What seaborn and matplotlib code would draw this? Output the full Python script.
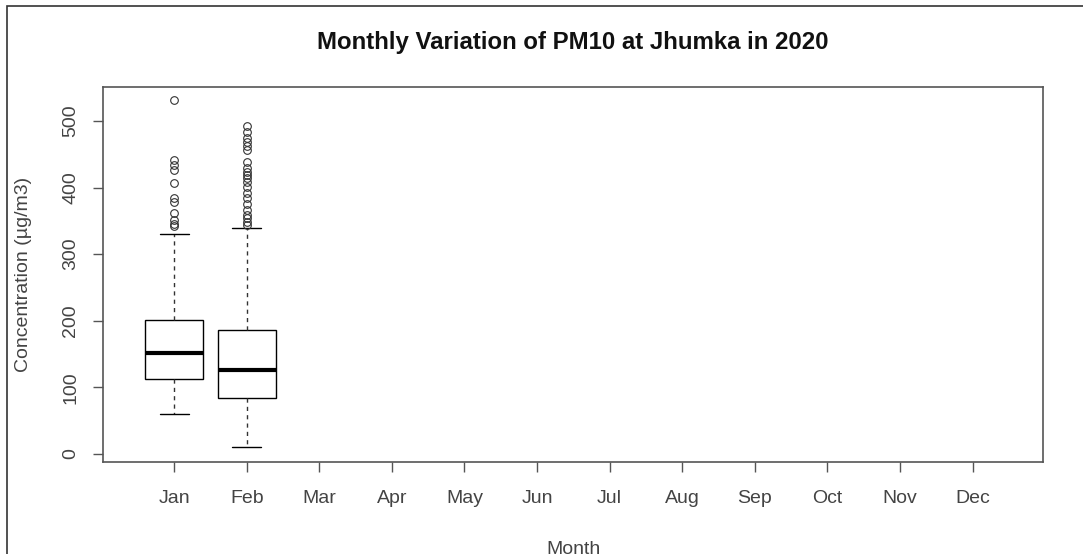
import numpy as np
import pandas as pd
import matplotlib
matplotlib.use("Agg")
import matplotlib.pyplot as plt
import matplotlib.patches as mpatches
import seaborn as sns

months = ["Jan", "Feb", "Mar", "Apr", "May", "Jun",
          "Jul", "Aug", "Sep", "Oct", "Nov", "Dec"]
data_months = ["Jan", "Feb"]
whisker_low = [60, 10]
q1 = [112.6, 83.5]
medians = [151.7, 125.6]
q3 = [201.0, 186.0]
whisker_high = [330, 339]
jan_outliers = [532, 441, 434, 427, 407, 384, 379, 362, 351, 345, 342]
feb_outliers = [493, 483, 475, 469, 463, 456, 439, 430, 424, 419, 414, 409,
                401, 392, 384, 375, 366, 359, 354, 349, 344]
outliers = [jan_outliers, feb_outliers]
y_ticks = [0, 100, 200, 300, 400, 500]

# Build a sample per month whose quartiles/whiskers/outliers match the read values
rows = []
for i, m in enumerate(data_months):
    core = [whisker_low[i], q1[i], medians[i], q3[i], whisker_high[i]]
    vals = list(np.repeat(core, 200)) + list(outliers[i])
    rows += [(m, v) for v in vals]
df = pd.DataFrame(rows, columns=["Month", "Concentration"])

sns.set_style("white")
plt.rcParams["font.family"] = ["Liberation Sans", "DejaVu Sans"]

fig = plt.figure(figsize=(10.83, 5.54), dpi=100)
ax = fig.add_axes([103 / 1083, 1 - 462 / 554, (1043 - 103) / 1083, (462 - 87) / 554])

sns.boxplot(data=df, x="Month", y="Concentration", order=months, ax=ax,
            color="white", linecolor="black", linewidth=1.0, width=0.8,
            whiskerprops=dict(linestyle=(0, (3, 3)), color="#333333"),
            medianprops=dict(linewidth=3, color="black"),
            flierprops=dict(marker="o", markerfacecolor="none",
                            markeredgecolor="#333333", markeredgewidth=0.8),
            fliersize=5.5)

ax.set_xlim(-0.98, 11.97)
ax.set_ylim(-12, 551)
ax.set_yticks(y_ticks)
ax.set_yticklabels([str(t) for t in y_ticks], rotation=90, va="center")
ax.set_xticks(range(len(months)))
ax.set_xticklabels(months)

for s in ax.spines.values():
    s.set_color("#555555")
    s.set_linewidth(1.2)
ax.tick_params(axis="both", direction="out", length=7, width=1, color="#555555",
               labelcolor="#444444", labelsize=14)
ax.tick_params(axis="x", pad=13)
ax.tick_params(axis="y", pad=10, left=True)
ax.tick_params(axis="x", bottom=True)

ax.set_xlabel("Month", fontsize=14, color="#444444", labelpad=25)
ax.set_ylabel("Concentration (µg/m3)", fontsize=14, color="#444444", labelpad=22)
fig.text(573 / 1083, 1 - 42 / 554, "Monthly Variation of PM10 at Jhumka in 2020",
         ha="center", va="center", fontsize=17.3, fontweight="bold", color="#111111")

# outer frame (top and left edges visible in reference)
fig.add_artist(mpatches.Rectangle((7 / 1083, -0.2), 1.2, 1.2 - 6 / 554,
                                  transform=fig.transFigure, fill=False,
                                  edgecolor="#333333", linewidth=1.2, clip_on=False))

fig.savefig("out.png", dpi=100)
